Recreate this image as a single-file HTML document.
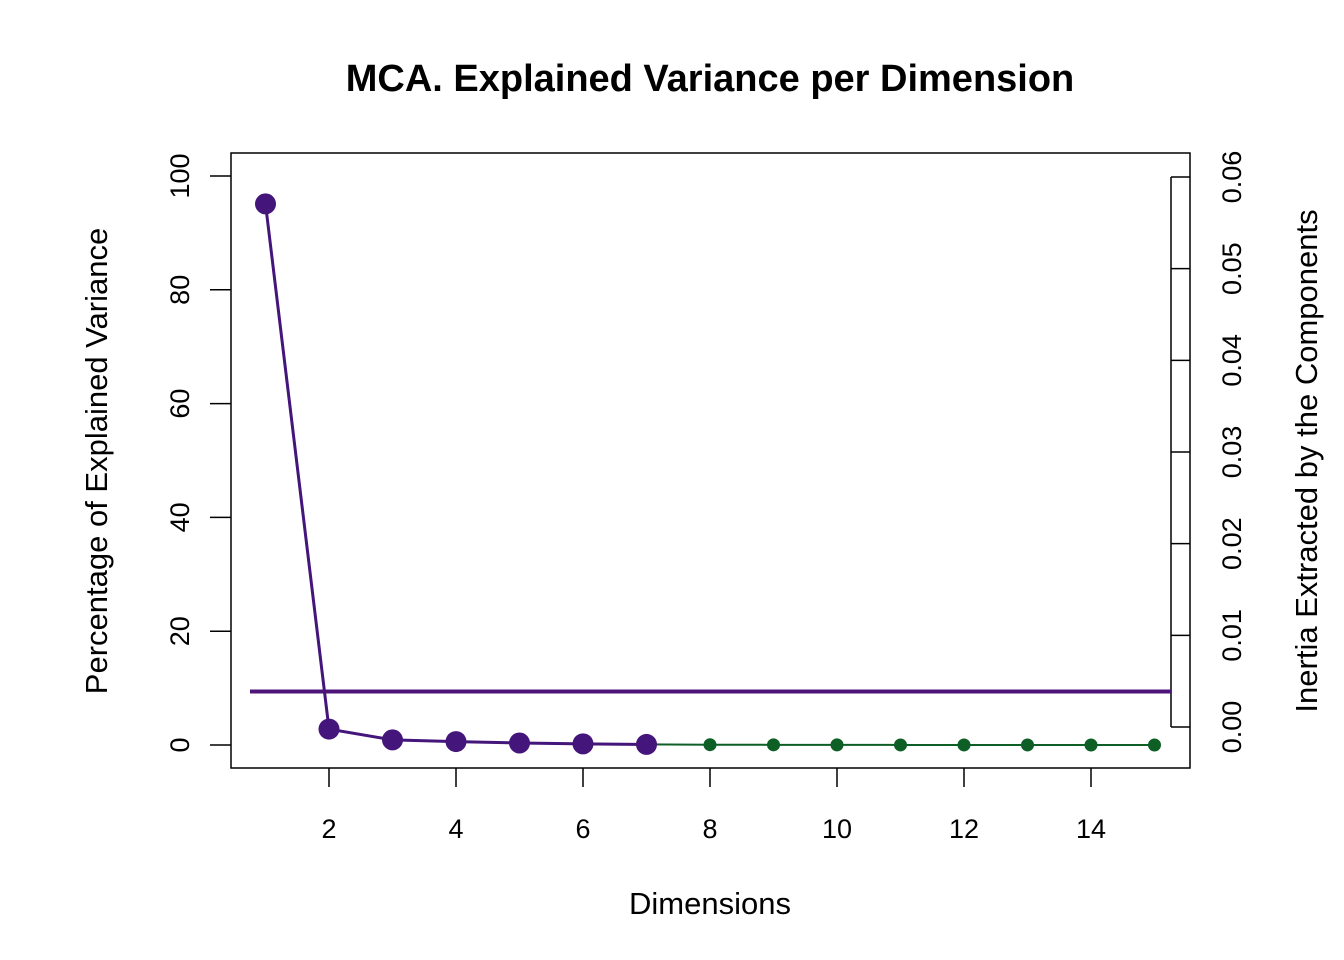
<!DOCTYPE html>
<html><head><meta charset="utf-8"><style>body{margin:0;background:#fff}svg{display:block;font-family:"Liberation Sans",Arial,sans-serif}</style></head>
<body>
<svg id="chart" width="1344" height="960">
<text x="710" y="91" font-size="38" font-weight="bold" text-anchor="middle">MCA. Explained Variance per Dimension</text>
<rect x="231" y="153" width="959" height="615" fill="none" stroke="#000" stroke-width="1.5"/>
<g id="xaxis"></g>
<g id="yaxis"></g>
<g id="raxis"></g>
<text x="710" y="914" font-size="31" text-anchor="middle">Dimensions</text>
<text transform="translate(107,461) rotate(-90)" font-size="31" text-anchor="middle">Percentage of Explained Variance</text>
<text transform="translate(1317,461) rotate(-90)" font-size="31" text-anchor="middle">Inertia Extracted by the Components</text>
<g id="marks"></g>
</svg>
<script>
const dims=[1,2,3,4,5,6,7,8,9,10,11,12,13,14,15];
const variance=[95.1,2.8,0.9,0.6,0.35,0.2,0.1,0.05,0.03,0.02,0.01,0.01,0.01,0.005,0.005];
const nSignificant=7;
const refLine=9.4;
const xTicks=[2,4,6,8,10,12,14];
const yTicks=[0,20,40,60,80,100];
const rTicks=["0.00","0.01","0.02","0.03","0.04","0.05","0.06"];
const NS='http://www.w3.org/2000/svg';
const sx=v=>265.5+(v-1)*63.5;
const sy=v=>745-v*5.69;
const sr=v=>727-v/0.06*550;
function mk(t,a,p){const e=document.createElementNS(NS,t);for(const k in a)e.setAttribute(k,a[k]);p.appendChild(e);return e;}
const xa=document.getElementById('xaxis'),ya=document.getElementById('yaxis'),ra=document.getElementById('raxis'),m=document.getElementById('marks');
xTicks.forEach(t=>{const l=mk('line',{x1:sx(t),x2:sx(t),y1:768,y2:787,stroke:'#000','stroke-width':1.5},xa);


const tx=mk('text',{x:sx(t),y:838,'font-size':27,'text-anchor':'middle'},xa);tx.textContent=t;

});
yTicks.forEach(t=>{const l=mk('line',{x1:210,x2:231,y1:sy(t),y2:sy(t),stroke:'#000','stroke-width':1.5},ya);


const tx=mk('text',{transform:`translate(189,${sy(t)}) rotate(-90)`,'font-size':27,'text-anchor':'middle'},ya);tx.textContent=t;

});
mk('line',{x1:1171,x2:1171,y1:sr(0),y2:sr(0.06),stroke:'#000','stroke-width':1.5},ra);
rTicks.forEach(t=>{const y=sr(parseFloat(t));const l=mk('line',{x1:1171,x2:1190,y1:y,y2:y,stroke:'#000','stroke-width':1.5},ra);


const tx=mk('text',{transform:`translate(1241,${y}) rotate(-90)`,'font-size':27,'text-anchor':'middle'},ra);tx.textContent=t;

});
const rl=mk('line',{x1:250,x2:1171,y1:sy(refLine),y2:sy(refLine),stroke:'#4f1479','stroke-width':4},m);


const pg=dims.slice(nSignificant-1).map((d,i)=>sx(d)+','+sy(variance[i+nSignificant-1])).join(' ');
const gl=mk('polyline',{points:pg,fill:'none',stroke:'#0d5f26','stroke-width':2},m);


const pp=dims.slice(0,nSignificant).map((d,i)=>sx(d)+','+sy(variance[i])).join(' ');
const pl=mk('polyline',{points:pp,fill:'none',stroke:'#44157a','stroke-width':3},m);


dims.forEach((d,i)=>{const big=i<nSignificant;const c=mk('circle',{cx:sx(d),cy:sy(variance[i]),r:big?10.5:6.5,fill:big?'#44157a':'#0d5f26'},m);

});
</script>
</body></html>
